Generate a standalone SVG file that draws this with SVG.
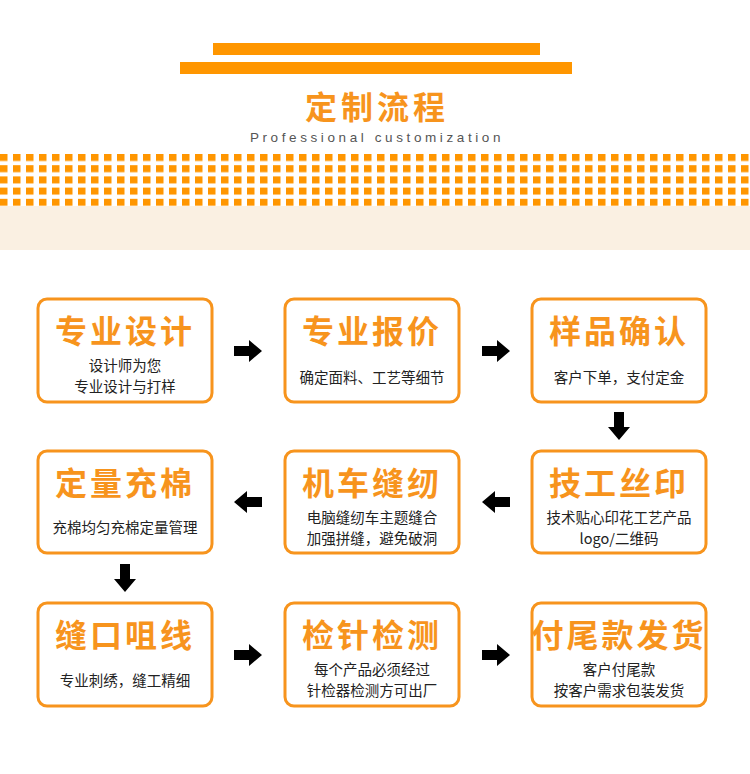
<svg xmlns="http://www.w3.org/2000/svg" width="750" height="774" viewBox="0 0 750 774">
<defs>
<style>
.box{fill:#fff;stroke:#f7941d;stroke-width:3}
.t{font-family:"Noto Sans CJK SC",sans-serif;font-weight:700;font-size:32px;fill:#f7941d;text-anchor:middle;letter-spacing:3px}
.s{font-family:"Noto Sans CJK SC",sans-serif;font-size:14.5px;fill:#222;text-anchor:middle}
</style>
<pattern id="sq" x="0" y="154" width="13" height="11.2" patternUnits="userSpaceOnUse"><rect x="0" y="0" width="7.5" height="7" fill="#ff9600"/></pattern>
<polygon id="ar" points="-14,-5 1,-5 1,-11 14,0 1,11 1,5 -14,5" fill="#000"/>
</defs>
<rect width="750" height="774" fill="#fff"/>
<rect x="213" y="43" width="327" height="12" fill="#ff9600"/>
<rect x="180" y="62" width="392" height="12" fill="#ff9600"/>
<text x="377" y="119" font-family="Noto Sans CJK SC,sans-serif" font-weight="700" font-size="32" fill="#f7941d" text-anchor="middle" letter-spacing="4">定制流程</text>
<text x="377" y="142" font-family="Liberation Sans,sans-serif" font-size="13.5" fill="#555" text-anchor="middle" letter-spacing="3.6">Professional customization</text>
<rect x="0" y="154" width="750" height="52" fill="url(#sq)"/>
<rect x="0" y="206" width="750" height="44" fill="#faf0e2"/>
<g id="n1"><rect class="box" x="38" y="299" width="174" height="103" rx="9"/><text class="t" x="125" y="343">专业设计</text><text class="s" x="125" y="371">设计师为您</text><text class="s" x="125" y="392">专业设计与打样</text></g>
<g id="n2"><rect class="box" x="285" y="299" width="174" height="103" rx="9"/><text class="t" x="372" y="343">专业报价</text><text class="s" x="372" y="383">确定面料、工艺等细节</text></g>
<g id="n3"><rect class="box" x="532" y="299" width="174" height="103" rx="9"/><text class="t" x="619" y="343">样品确认</text><text class="s" x="619" y="383">客户下单，支付定金</text></g>
<g id="n4"><rect class="box" x="532" y="451" width="174" height="102" rx="9"/><text class="t" x="619" y="495">技工丝印</text><text class="s" x="619" y="523">技术贴心印花工艺产品</text><text class="s" x="619" y="544">logo/二维码</text></g>
<g id="n5"><rect class="box" x="285" y="451" width="174" height="102" rx="9"/><text class="t" x="372" y="495">机车缝纫</text><text class="s" x="372" y="523">电脑缝纫车主题缝合</text><text class="s" x="372" y="544">加强拼缝，避免破洞</text></g>
<g id="n6"><rect class="box" x="38" y="451" width="174" height="102" rx="9"/><text class="t" x="125" y="495">定量充棉</text><text class="s" x="125" y="533">充棉均匀充棉定量管理</text></g>
<g id="n7"><rect class="box" x="38" y="603" width="174" height="103" rx="9"/><text class="t" x="125" y="647">缝口咀线</text><text class="s" x="125" y="686">专业刺绣，缝工精细</text></g>
<g id="n8"><rect class="box" x="285" y="603" width="174" height="103" rx="9"/><text class="t" x="372" y="647">检针检测</text><text class="s" x="372" y="675">每个产品必须经过</text><text class="s" x="372" y="696">针检器检测方可出厂</text></g>
<g id="n9"><rect class="box" x="532" y="603" width="174" height="103" rx="9"/><text class="t" x="619" y="647" letter-spacing="0">付尾款发货</text><text class="s" x="619" y="675">客户付尾款</text><text class="s" x="619" y="696">按客户需求包装发货</text></g>
<g id="connectors">
<use href="#ar" transform="translate(248,351)"/>
<use href="#ar" transform="translate(496,351)"/>
<use href="#ar" transform="translate(619,426) rotate(90)"/>
<use href="#ar" transform="translate(496,502) rotate(180)"/>
<use href="#ar" transform="translate(248,502) rotate(180)"/>
<use href="#ar" transform="translate(125,578) rotate(90)"/>
<use href="#ar" transform="translate(248,655)"/>
<use href="#ar" transform="translate(496,655)"/>
</g>
</svg>
